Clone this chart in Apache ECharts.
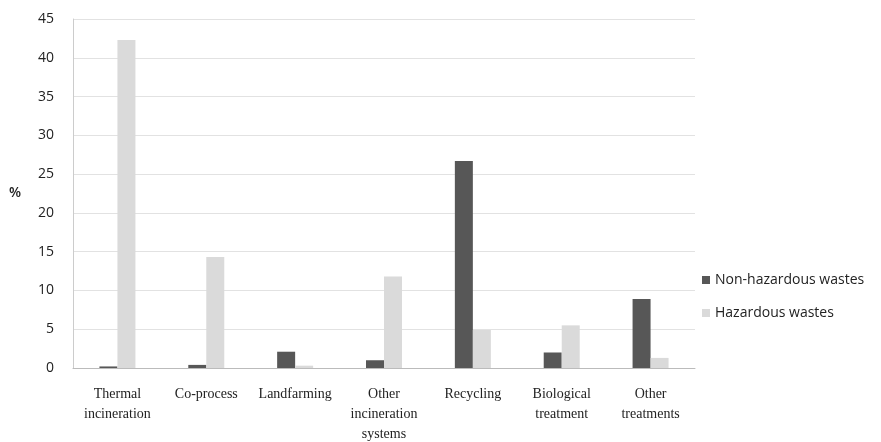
<!DOCTYPE html>
<html><head><meta charset="utf-8">
<script src="https://cdn.jsdelivr.net/npm/echarts@6/dist/echarts.min.js"></script>
<style>html,body{margin:0;padding:0;background:#fff}#c{width:881px;height:442px}</style>
</head><body><div id="c"></div>
<script>
const categories = ['Thermal\nincineration','Co-process','Landfarming','Other\nincineration\nsystems','Recycling','Biological\ntreatment','Other\ntreatments'];
const nonHazardous = [0.2, 0.4, 2.1, 1.0, 26.7, 2.0, 8.9];
const hazardous = [42.3, 14.3, 0.3, 11.8, 4.9, 5.5, 1.3];
const yTicks = {min:0, max:45, interval:5};

const chart = echarts.init(document.getElementById('c'));
chart.setOption({
  animation:false,
  grid:{left:73, right:186, top:19, bottom:74, outerBoundsMode:'none', containLabel:false},
  legend:{
    orient:'vertical', left:697, top:268, itemWidth:8, itemHeight:8, itemGap:19,
    icon:'rect',
    textStyle:{fontFamily:'Open Sans', fontSize:14, color:'#222'},
    data:['Non-hazardous wastes','Hazardous wastes']
  },
  xAxis:{
    type:'category', data:categories,
    axisTick:{show:false},
    axisLine:{lineStyle:{color:'#bbb'}},
    axisLabel:{interval:0, fontFamily:'Liberation Serif', fontSize:14, color:'#222', lineHeight:20, margin:16}
  },
  yAxis:{
    type:'value', min:yTicks.min, max:yTicks.max, interval:yTicks.interval,
    name:'%', nameLocation:'middle', nameRotate:0, nameGap:52,
    nameTextStyle:{fontFamily:'Open Sans', fontSize:14, color:'#222', fontWeight:600},
    axisLine:{show:true, lineStyle:{color:'#ccc'}},
    axisTick:{show:false},
    splitLine:{lineStyle:{color:'#e2e2e2'}},
    axisLabel:{fontFamily:'Open Sans', fontSize:14, color:'#222', margin:19}
  },
  series:[
    {name:'Non-hazardous wastes', type:'bar', data:nonHazardous, barWidth:18, barGap:'0%', itemStyle:{color:'#575757'}},
    {name:'Hazardous wastes', type:'bar', data:hazardous, barWidth:18, itemStyle:{color:'#dadada'}}
  ]
});
</script></body></html>
